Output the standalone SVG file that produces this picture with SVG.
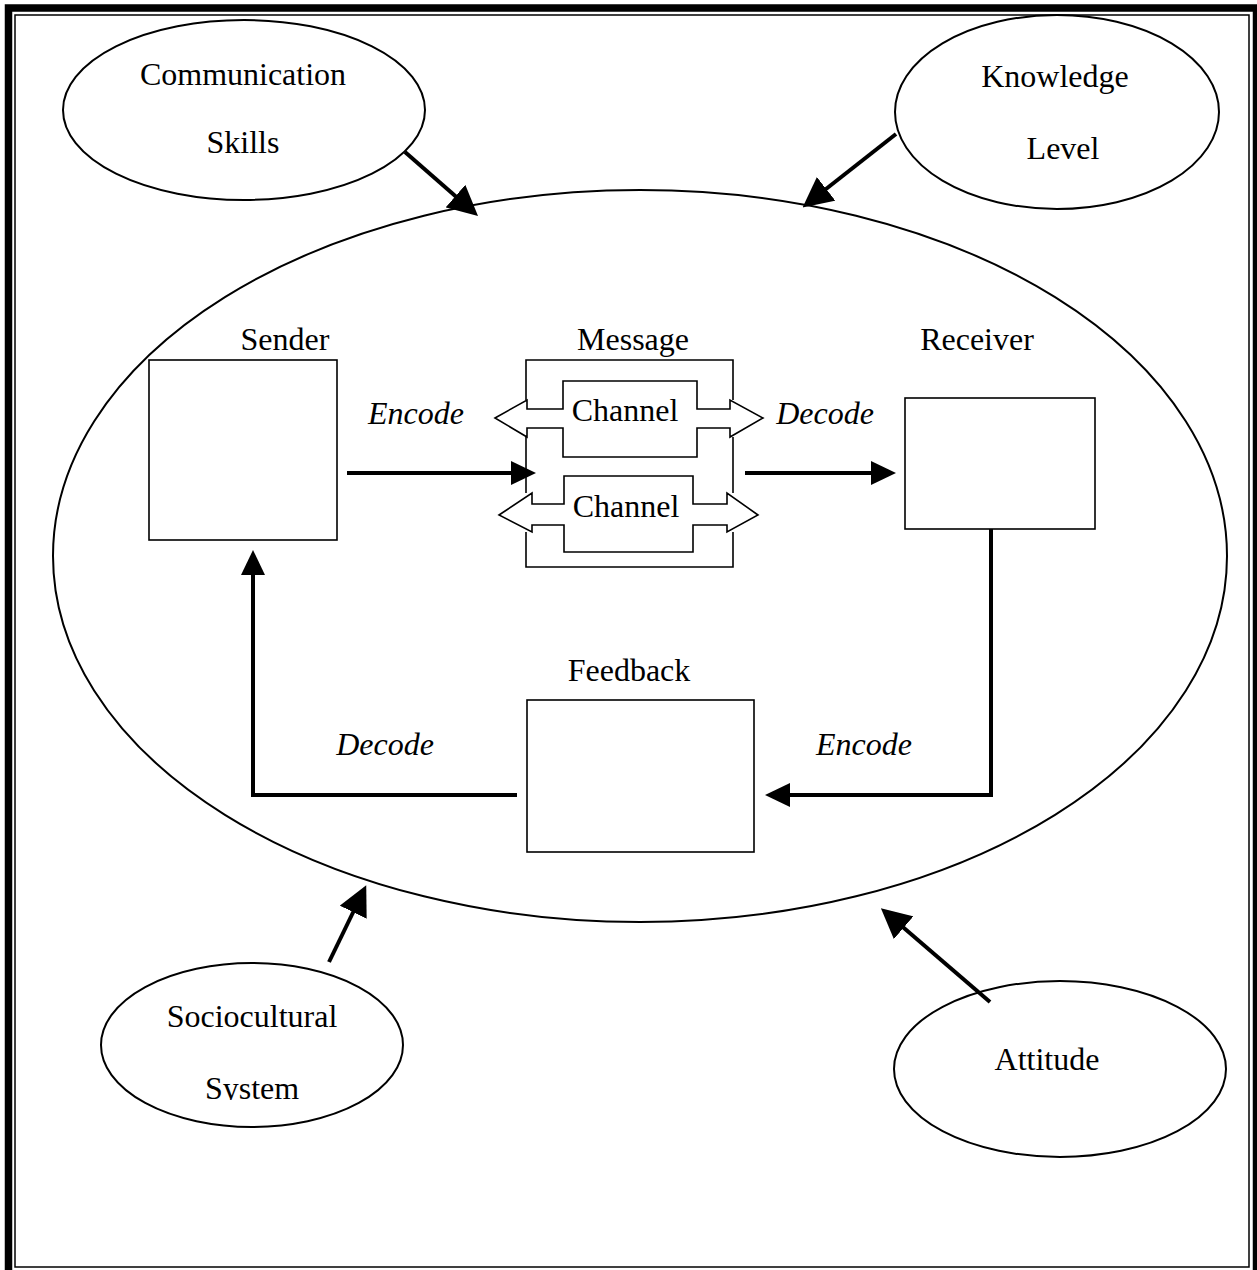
<svg xmlns="http://www.w3.org/2000/svg" width="1257" height="1270" viewBox="0 0 1257 1270">
  <defs>
    <marker id="head" viewBox="0 0 25 24" refX="15" refY="12" markerWidth="25" markerHeight="24" markerUnits="userSpaceOnUse" orient="auto">
      <path d="M0,0 L25,12 L0,24 Z" fill="#000"/>
    </marker>
    <marker id="headBig" viewBox="0 0 30 30" refX="18" refY="15" markerWidth="30" markerHeight="30" markerUnits="userSpaceOnUse" orient="auto">
      <path d="M0,0 L30,15 L0,30 Z" fill="#000"/>
    </marker>
    <clipPath id="sysClip">
      <rect x="0" y="0" width="1257" height="1100"/>
    </clipPath>
  </defs>
  <style>
    .lbl { font-family: "Liberation Serif", "Times New Roman", serif; font-size: 32px; fill: #000; text-anchor: middle; }
    .it { font-style: italic; }
    .oval { fill: none; stroke: #000; stroke-width: 2; }
    .box { fill: #fff; stroke: #000; stroke-width: 1.6; }
    .pipe { fill: #fff; stroke: #000; stroke-width: 1.6; stroke-linejoin: miter; }
    .conn { fill: none; stroke: #000; stroke-width: 4; stroke-linejoin: miter; }
  </style>

  <rect width="1257" height="1270" fill="#fff"/>

  <!-- page border: thick outer rule, thin inner rule -->
  <g id="border">
    <rect x="8.5" y="8" width="1248" height="1266" fill="none" stroke="#000" stroke-width="7.5"/>
    <rect x="15" y="15" width="1234" height="1252" fill="none" stroke="#000" stroke-width="1.5"/>
  </g>

  <!-- communication context -->
  <g id="context">
    <ellipse class="oval" cx="640" cy="556" rx="587" ry="366"/>
  </g>

  <g id="communication-skills">
    <ellipse class="oval" cx="244" cy="110" rx="181" ry="90"/>
    <text class="lbl" x="243" y="85">Communication</text>
    <text class="lbl" x="243" y="153">Skills</text>
  </g>

  <g id="knowledge-level">
    <ellipse class="oval" cx="1057" cy="112" rx="162" ry="97"/>
    <text class="lbl" x="1055" y="87">Knowledge</text>
    <text class="lbl" x="1063" y="159">Level</text>
  </g>

  <g id="sociocultural-system">
    <ellipse class="oval" cx="252" cy="1045" rx="151" ry="82"/>
    <text class="lbl" x="252" y="1027">Sociocultural</text>
    <text class="lbl" x="252" y="1099" clip-path="url(#sysClip)">System</text>
  </g>

  <g id="attitude">
    <ellipse class="oval" cx="1060" cy="1069" rx="166" ry="88"/>
    <text class="lbl" x="1047" y="1070">Attitude</text>
  </g>

  <g id="sender">
    <text class="lbl" x="285" y="350">Sender</text>
    <rect class="box" x="149" y="360" width="188" height="180"/>
  </g>

  <g id="receiver">
    <text class="lbl" x="977" y="350">Receiver</text>
    <rect class="box" x="905" y="398" width="190" height="131"/>
  </g>

  <g id="feedback">
    <text class="lbl" x="629" y="681">Feedback</text>
    <rect class="box" x="527" y="700" width="227" height="152"/>
  </g>

  <g id="message">
    <text class="lbl" x="633" y="350">Message</text>
    <!-- bracket around the two channels -->
    <path class="pipe" fill="none" d="M526,400 V360 H733 V400"/>
    <path class="pipe" fill="none" d="M526,437 V493"/>
    <path class="pipe" fill="none" d="M733,437 V493"/>
    <path class="pipe" fill="none" d="M526,532 V567 H733 V532"/>
    <!-- upper channel -->
    <path class="pipe" d="M495,418 L527,400 V409 H563 V381 H697 V409 H730 V400 L763,418 L730,437 V428 H697 V457 H563 V428 H527 V437 Z"/>
    <text class="lbl" x="625" y="421">Channel</text>
    <!-- lower channel -->
    <path class="pipe" d="M499,515 L532,493 V504 H564 V476 H693 V504 H727 V493 L758,515 L727,532 V525 H693 V552 H564 V525 H532 V532 Z"/>
    <text class="lbl" x="626" y="517">Channel</text>
  </g>

  <g id="connectors">
    <line class="conn" x1="347" y1="473" x2="526" y2="473" marker-end="url(#head)"/>
    <line class="conn" x1="745" y1="473" x2="886" y2="473" marker-end="url(#head)"/>
    <polyline class="conn" points="991,529 991,795 775,795" marker-end="url(#head)"/>
    <polyline class="conn" points="517,795 253,795 253,560" marker-end="url(#head)"/>
    <line class="conn" x1="405" y1="152" x2="469" y2="208" marker-end="url(#headBig)"/>
    <line class="conn" x1="896" y1="134" x2="812" y2="200" marker-end="url(#headBig)"/>
    <line class="conn" x1="329" y1="962" x2="361" y2="896" marker-end="url(#headBig)"/>
    <line class="conn" x1="990" y1="1002" x2="890" y2="916" marker-end="url(#headBig)"/>
  </g>

  <g id="labels">
    <text class="lbl it" x="416" y="424">Encode</text>
    <text class="lbl it" x="825" y="424">Decode</text>
    <text class="lbl it" x="385" y="755">Decode</text>
    <text class="lbl it" x="864" y="755">Encode</text>
  </g>
</svg>
